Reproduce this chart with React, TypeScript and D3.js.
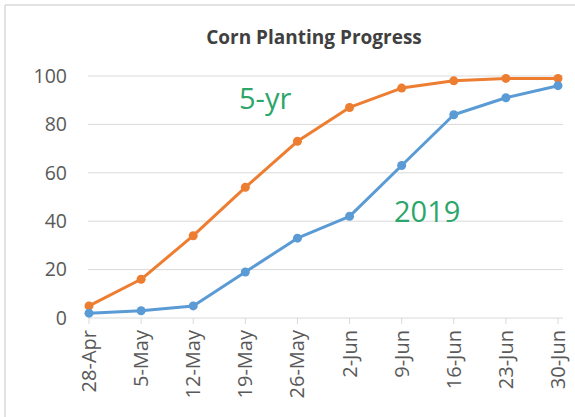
import React from 'react';
import * as d3 from 'd3';

const dates = ["28-Apr", "5-May", "12-May", "19-May", "26-May", "2-Jun", "9-Jun", "16-Jun", "23-Jun", "30-Jun"];
const fiveYr = [5, 16, 34, 54, 73, 87, 95, 98, 99, 99];
const y2019 = [2, 3, 5, 19, 33, 42, 63, 84, 91, 96];
const yTickValues = [0, 20, 40, 60, 80, 100];

const width = 575;
const height = 417;
const plotLeft = 89;
const plotRight = 558;
const plotTop = 76;
const plotBottom = 318;
const font = "'Open Sans', sans-serif";
const orange = "#ed7d31";
const blue = "#5b9bd5";
const green = "#2ca66a";

const App: React.FC = () => {
  const xScale = d3.scalePoint<string>().domain(dates).range([plotLeft, plotRight]);
  const yScale = d3.scaleLinear().domain([0, 100]).range([plotBottom, plotTop]);

  const line = d3.line<number>()
    .x((_, i) => xScale(dates[i]) as number)
    .y(d => yScale(d));

  const series = [
    {name: "5-yr", values: fiveYr, color: orange},
    {name: "2019", values: y2019, color: blue},
  ];

  return (
    <svg width={width} height={height} style={{position: "absolute", left: 0, top: 0, background: "white"}}>
      {/* chart border, only top and left show in the screenshot */}
      <line x1={5} x2={width} y1={5} y2={5} stroke="#d9d9d9" strokeWidth={1.5}/>
      <line x1={5} x2={5} y1={5} y2={height} stroke="#d9d9d9" strokeWidth={1.5}/>

      <text x={314} y={44} textAnchor="middle" fontFamily={font} fontSize={19} fontWeight="bold" fill="#404040">
        Corn Planting Progress
      </text>

      {yTickValues.map(v => (
        <g key={v}>
          {v > 0 &&
            <line x1={plotLeft - 1} x2={plotRight + 5} y1={yScale(v)} y2={yScale(v)} stroke="#d9d9d9" strokeWidth={1}/>}
          <text x={67} y={yScale(v)} dy="0.35em" textAnchor="end" fontFamily={font} fontSize={19.5} fill="#595959">{v}</text>
        </g>
      ))}

      {/* x axis */}
      <line x1={plotLeft - 1} x2={plotRight + 5} y1={plotBottom} y2={plotBottom} stroke="#d9d9d9" strokeWidth={1}/>
      {dates.map(d => {
        const x = xScale(d) as number;
        return (
          <g key={d}>
            <line x1={x} x2={x} y1={plotBottom} y2={plotBottom + 6} stroke="#d9d9d9"/>
            <text transform={`translate(${x}, ${plotBottom + 12}) rotate(-90)`} textAnchor="end" dy="0.35em"
              fontFamily={font} fontSize={20} fill="#595959">{d}</text>
          </g>
        );
      })}

      {series.map(s => (
        <g key={s.name}>
          <path d={line(s.values) as string} fill="none" stroke={s.color} strokeWidth={3} strokeLinejoin="round"/>
          {s.values.map((v, i) => (
            <circle key={i} cx={xScale(dates[i]) as number} cy={yScale(v)} r={4.5} fill={s.color}/>
          ))}
        </g>
      ))}

      <text x={239} y={109} fontFamily={font} fontSize={29} fill={green}>5-yr</text>
      <text x={394} y={222} fontFamily={font} fontSize={29} fill={green}>2019</text>
    </svg>
  );
};

export default App;
